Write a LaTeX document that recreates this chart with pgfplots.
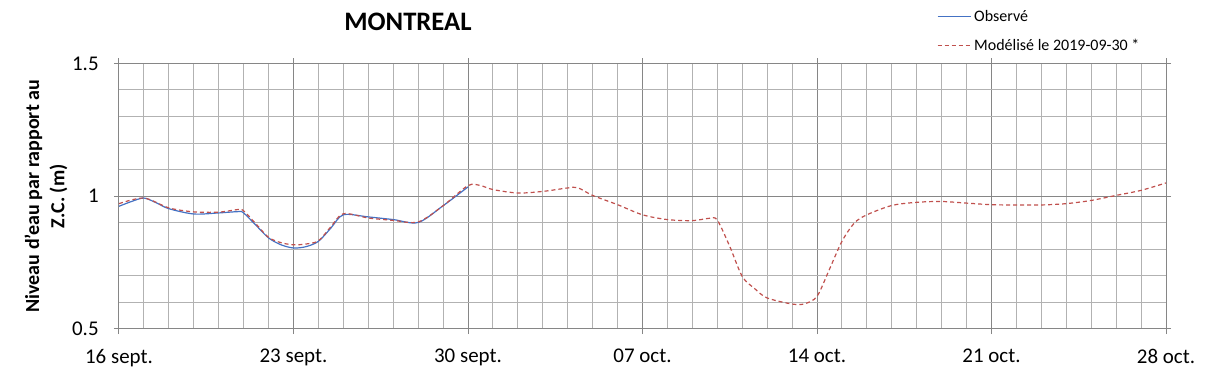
\documentclass[border=0pt]{standalone}
\usepackage{pgfplots}
\pgfplotsset{compat=1.18}
\usepackage{fontspec}
\setmainfont{Carlito}
\definecolor{obs}{RGB}{68,114,196}
\definecolor{mod}{RGB}{192,80,77}
\definecolor{mingrid}{RGB}{178,178,178}
\definecolor{majgrid}{RGB}{134,134,134}
\begin{document}
\begin{tikzpicture}
\begin{axis}[
  at={(0,0)}, anchor=south west,
  scale only axis,
  width=785.25pt, height=199.2pt,
  xmin=0, xmax=42, ymin=0.5, ymax=1.5,
  xtick={0,7,14,21,28,35,42},
  xticklabels={16 sept.,23 sept.,30 sept.,07 oct.,14 oct.,21 oct.,28 oct.},
  minor x tick num=6,
  ytick={0.5,1,1.5},
  yticklabels={0.5,1,1.5},
  minor y tick num=4,
  grid=both,
  major grid style={majgrid, line width=0.75pt},
  minor grid style={mingrid, line width=0.75pt},
  axis line style={majgrid, line width=0.75pt},
  tick align=outside,
  major tick length=3.75pt,
  minor tick length=0pt,
  tick style={majgrid, line width=0.75pt},
  tick label style={font=\fontsize{15.7}{18}\selectfont, text=black},
  xticklabel style={yshift=-8pt},
  yticklabel style={xshift=-8pt},
  title={MONTREAL},
  title style={at={(rel axis cs:0.276,1.127)}, anchor=center, font=\bfseries\fontsize{20}{24}\selectfont},
  ylabel={Niveau d'eau par rapport au\\Z.C. (m)},
  ylabel style={at={(rel axis cs:-0.0697,0.5)}, anchor=center, align=center, font=\bfseries\fontsize{15}{19}\selectfont},
  legend style={at={(rel axis cs:0.781,1.212)}, anchor=north west, draw=none, fill=none,
    font=\fontsize{12}{14}\selectfont, row sep=8pt, inner sep=0pt,
    nodes={inner sep=2pt}},
  legend cell align=left,
  legend image code/.code={\draw[#1] (0pt,0pt) -- (25pt,0pt);},
]
\addplot[obs, line width=0.9pt, smooth, tension=0.5] coordinates {
(0,0.962) (0.5,0.980) (1,0.993) (1.5,0.975) (2,0.953) (3,0.933) (4,0.937)
(4.8,0.942) (5,0.937) (5.5,0.890) (6,0.843) (6.5,0.817) (7,0.805) (7.5,0.810)
(8,0.830) (8.5,0.880) (9,0.930) (10,0.922) (11,0.912) (12,0.901) (13,0.964) (14,1.035)
};
\addlegendentry{Observé}
\addplot[mod, line width=0.9pt, dash pattern=on 3pt off 2.25pt, smooth, tension=0.5] coordinates {
(0,0.972) (1,0.993) (2,0.956) (3,0.941) (4,0.940) (4.8,0.950) (5,0.945) (5.5,0.895)
(6,0.845) (6.5,0.825) (7,0.817) (7.5,0.820) (8,0.832) (8.5,0.885) (9,0.934) (10,0.918)
(11,0.909) (12,0.903) (13,0.964) (14,1.040) (14.5,1.040) (15,1.025) (16,1.012) (17,1.018)
(18,1.031) (18.4,1.032) (19,1.003) (20,0.968) (21,0.930) (22,0.912) (23,0.908) (23.7,0.917)
(24,0.910) (24.5,0.811) (25,0.698) (25.5,0.652) (26,0.617) (27,0.594) (27.5,0.595)
(28,0.623) (28.5,0.725) (29,0.830) (29.5,0.899) (30,0.930) (31,0.965) (32,0.977) (33,0.980)
(34,0.974) (35,0.968) (36,0.967) (37,0.967) (38,0.972) (39,0.984) (40,1.003) (41,1.022) (42,1.050)
};
\addlegendentry{Modélisé le 2019-09-30 *}
\end{axis}
\path (-89.25pt,-36.75pt) rectangle (817.5pt,246.75pt);
\end{tikzpicture}
\end{document}
